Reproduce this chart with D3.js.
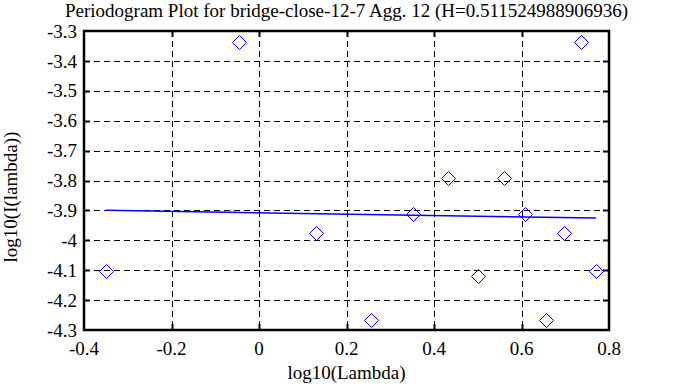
<html>
<head>
<meta charset="utf-8">
<title>Periodogram</title>
<script src="https://d3js.org/d3.v7.min.js"></script>
<style>
  body { margin: 0; background: #fff; }
</style>
</head>
<body>
<script>
    var width = 695,
        height = 387,
        margin = {top: 31, right: 86, bottom: 57, left: 84},
        pointColor = "#0000ff",
        fontFamily = "'Liberation Serif', 'Times New Roman', serif",
        fontSize = 19;

    // periodogram points, log10(lambda) vs log10(I(lambda))
    var logLambda = [-0.35, -0.046, 0.130, 0.256, 0.352, 0.433, 0.501, 0.559, 0.609, 0.656, 0.698, 0.736, 0.770];
    var logI = [-4.102, -3.337, -3.977, -4.267, -3.912, -3.793, -4.118, -3.793, -3.912, -4.267, -3.976, -3.337, -4.102];

    // fitted line: slope = 1 - 2H
    var hurst = 0.511524988906936,
        fitIntercept = -3.9078;

    var xTicks = [-0.4, -0.2, 0, 0.2, 0.4, 0.6, 0.8];
    var yTicks = [-3.3, -3.4, -3.5, -3.6, -3.7, -3.8, -3.9, -4, -4.1, -4.2, -4.3];

    var svg = d3.select("body").append("svg")
        .attr("width", width)
        .attr("height", height)
        .attr("font-family", fontFamily)
        .attr("font-size", fontSize);

    svg.append("rect")
        .attr("width", width)
        .attr("height", height)
        .attr("fill", "#fff");

    var x = d3.scaleLinear().domain([-0.4, 0.8]).range([margin.left, width - margin.right]);
    var y = d3.scaleLinear().domain([-4.3, -3.3]).range([height - margin.bottom, margin.top]);

    var x0 = x.range()[0], x1 = x.range()[1],
        y0 = y.range()[0], y1 = y.range()[1];

    // dashed grid (inner lines only)
    svg.append("g").selectAll("line")
        .data(xTicks.slice(1, -1))
        .enter().append("line")
        .attr("x1", function (d) { return Math.round(x(d)) + 0.5; })
        .attr("x2", function (d) { return Math.round(x(d)) + 0.5; })
        .attr("y1", y1)
        .attr("y2", y0)
        .attr("stroke", "#000")
        .attr("stroke-dasharray", "6,4");

    svg.append("g").selectAll("line")
        .data(yTicks.slice(1, -1))
        .enter().append("line")
        .attr("y1", function (d) { return Math.round(y(d)) + 0.5; })
        .attr("y2", function (d) { return Math.round(y(d)) + 0.5; })
        .attr("x1", x0)
        .attr("x2", x1)
        .attr("stroke", "#000")
        .attr("stroke-dasharray", "6,4");

    // tick marks on all four sides, pointing in
    var tl = 6;
    var ticks = svg.append("g").attr("stroke", "#000").attr("stroke-width", 2);
    xTicks.slice(1, -1).forEach(function (d) {
        var px = Math.round(x(d)) + 0.5;
        ticks.append("line").attr("x1", px).attr("x2", px).attr("y1", y0).attr("y2", y0 - tl);
        ticks.append("line").attr("x1", px).attr("x2", px).attr("y1", y1).attr("y2", y1 + tl);
    });
    yTicks.slice(1, -1).forEach(function (d) {
        var py = Math.round(y(d)) + 0.5;
        ticks.append("line").attr("y1", py).attr("y2", py).attr("x1", x0).attr("x2", x0 + tl);
        ticks.append("line").attr("y1", py).attr("y2", py).attr("x1", x1).attr("x2", x1 - tl);
    });

    // frame
    svg.append("rect")
        .attr("x", x0)
        .attr("y", y1)
        .attr("width", x1 - x0)
        .attr("height", y0 - y1)
        .attr("fill", "none")
        .attr("stroke", "#000")
        .attr("stroke-width", 2.5);

    // tick labels
    svg.append("g").selectAll("text")
        .data(xTicks)
        .enter().append("text")
        .attr("x", function (d) { return x(d); })
        .attr("y", 355)
        .attr("text-anchor", "middle")
        .text(function (d) { return d; });

    svg.append("g").selectAll("text")
        .data(yTicks)
        .enter().append("text")
        .attr("x", 77)
        .attr("y", function (d) { return y(d); })
        .attr("dy", "0.35em")
        .attr("text-anchor", "end")
        .text(function (d) { return d; });

    // fit line
    var slope = 1 - 2 * hurst;
    var xExt = d3.extent(logLambda);
    svg.append("line")
        .attr("x1", x(xExt[0]))
        .attr("y1", y(fitIntercept + slope * xExt[0]))
        .attr("x2", x(xExt[1]))
        .attr("y2", y(fitIntercept + slope * xExt[1]))
        .attr("stroke", pointColor)
        .attr("stroke-width", 1.5);

    // diamonds
    var r = 7;
    svg.append("g").selectAll("path")
        .data(logLambda)
        .enter().append("path")
        .attr("d", function (d, i) {
            var cx = Math.round(x(d)) + 0.5, cy = Math.round(y(logI[i])) + 0.5;
            return "M" + cx + "," + (cy - r) + "L" + (cx + r) + "," + cy +
                "L" + cx + "," + (cy + r) + "L" + (cx - r) + "," + cy + "Z";
        })
        .attr("fill", "none")
        .attr("stroke", pointColor)
        .attr("stroke-width", 1);

    // titles
    svg.append("text")
        .attr("x", (x0 + x1) / 2)
        .attr("y", 17)
        .attr("text-anchor", "middle")
        .text("Periodogram Plot for bridge-close-12-7 Agg. 12 (H=0.511524988906936)");

    svg.append("text")
        .attr("x", (x0 + x1) / 2)
        .attr("y", 379)
        .attr("text-anchor", "middle")
        .text("log10(Lambda)");

    svg.append("text")
        .attr("transform", "translate(17,197) rotate(-90)")
        .attr("text-anchor", "middle")
        .text("log10(I(lambda))");
</script>
</body>
</html>
